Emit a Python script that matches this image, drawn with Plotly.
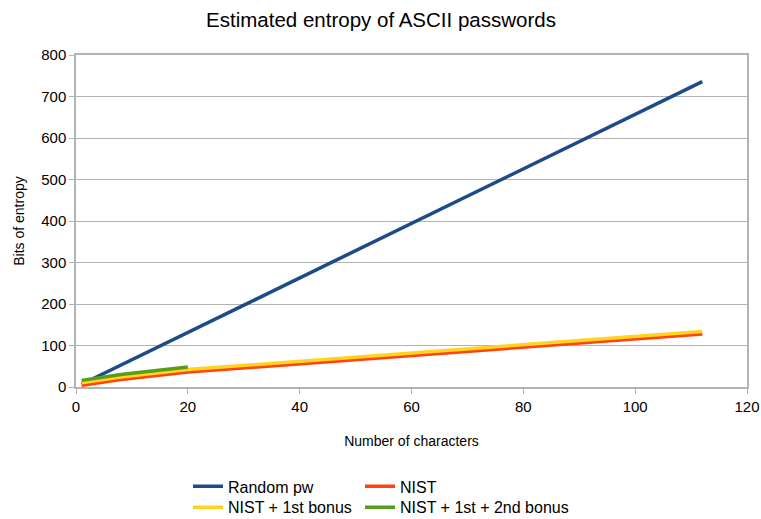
import plotly.graph_objects as go

# Breakpoints of each piecewise-linear series (x = number of characters, y = bits)
random_x = [1, 112]
random_y = [6.57, 735.8]

nist_x = [1, 8, 20, 112]
nist_y = [4, 18, 36, 128]

bonus1_x = [1, 8, 20, 112]
bonus1_y = [10, 24, 42, 134]

bonus2_x = [1, 8, 20]
bonus2_y = [16, 30, 48]

x_ticks = [0, 20, 40, 60, 80, 100, 120]
y_ticks = [0, 100, 200, 300, 400, 500, 600, 700, 800]

FONT = "Liberation Sans, Arial, sans-serif"
GRID = "#b3b3b3"

W, H = 761, 519
L, R, T, B = 76, 747, 55, 387.5
PW, PH = R - L, B - T


def lx(px):  # screen x -> paper x
    return (px - L) / PW


def ly(py):  # screen y -> paper y
    return -(py - B) / PH


fig = go.Figure()
fig.add_trace(go.Scatter(x=random_x, y=random_y, mode="lines", name="Random pw",
                         line=dict(color="#1d4a88", width=3.5), legend="legend",
                         showlegend=True))
fig.add_trace(go.Scatter(x=nist_x, y=nist_y, mode="lines", name="NIST",
                         line=dict(color="#ff420e", width=3.5), legend="legend2",
                         showlegend=True))
fig.add_trace(go.Scatter(x=bonus1_x, y=bonus1_y, mode="lines", name="NIST + 1st bonus",
                         line=dict(color="#ffd320", width=3.5), legend="legend3",
                         showlegend=True))
fig.add_trace(go.Scatter(x=bonus2_x, y=bonus2_y, mode="lines", name="NIST + 1st + 2nd bonus",
                         line=dict(color="#579d1c", width=3.5), legend="legend4",
                         showlegend=True))

leg_common = dict(orientation="h", xanchor="left", yanchor="middle", visible=True,
                  font=dict(size=16), bgcolor="rgba(0,0,0,0)")

fig.update_layout(
    width=W, height=H, showlegend=True,
    paper_bgcolor="white", plot_bgcolor="white",
    margin=dict(l=L, r=W - R, t=T, b=H - B, autoexpand=False),
    font=dict(family=FONT, size=14, color="#000000"),
    title=dict(text="Estimated entropy of ASCII passwords", x=381 / W, xanchor="center",
               y=1 - 20 / H, yanchor="middle", font=dict(size=20.5, family=FONT)),
    xaxis=dict(range=[0, 120], tickvals=x_ticks, showgrid=False, zeroline=False,
               showline=True, linecolor=GRID, linewidth=1.5, mirror=True,
               ticks="outside", ticklen=5, tickcolor=GRID, tickwidth=1,
               tickfont=dict(size=15), automargin=False,
               title=dict(text="Number of characters", font=dict(size=14), standoff=22)),
    yaxis=dict(range=[0, 800], tickvals=y_ticks, showgrid=True, gridcolor=GRID, gridwidth=1,
               zeroline=False, showline=True, linecolor=GRID, linewidth=1.5, mirror=True,
               ticks="outside", ticklen=5, tickcolor=GRID, tickwidth=1,
               tickfont=dict(size=15), automargin=False,
               title=dict(text="Bits of entropy", font=dict(size=14), standoff=13)),
    legend=dict(x=lx(188), y=ly(487), **leg_common),
    legend2=dict(x=lx(360), y=ly(487), **leg_common),
    legend3=dict(x=lx(188), y=ly(508), **leg_common),
    legend4=dict(x=lx(360), y=ly(508), **leg_common),
)

# remove the browser's default 8 px page margin so the figure sits at the window's corner
fig.write_html("out.html", config={"displayModeBar": False},
               post_script="document.body.style.margin='0';")
